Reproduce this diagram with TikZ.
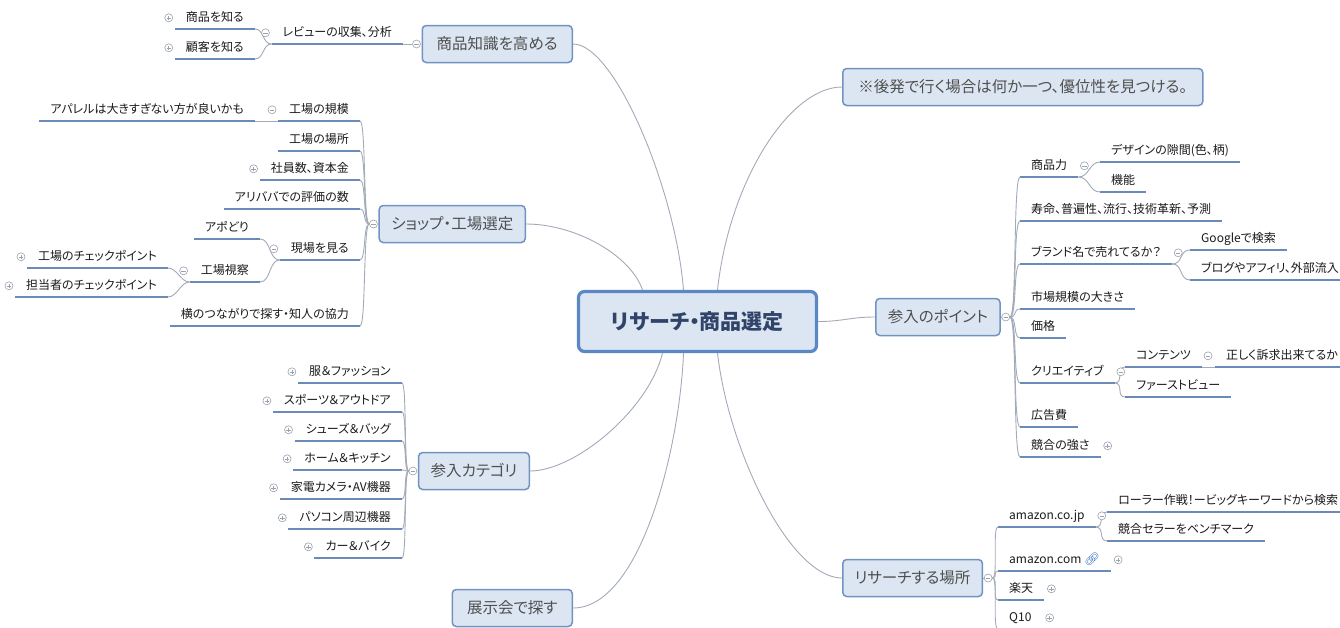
\documentclass[tikz,border=0pt]{standalone}
\usepackage{fontspec}
\setmainfont{Noto Sans CJK JP}[RawFeature=+palt]
\newfontfamily\emojifont{Noto Emoji}

\definecolor{topicfill}{HTML}{DCE6F2}
\definecolor{topicline}{HTML}{7193C2}
\definecolor{rootline}{HTML}{5B87C5}
\definecolor{ulinec}{HTML}{6A8BB8}
\definecolor{connline}{HTML}{A3ABB8}
\definecolor{signline}{HTML}{9AA2AD}
\definecolor{subtext}{HTML}{1A1A1A}
\definecolor{topictext}{HTML}{4F4F4F}
\definecolor{roottext}{HTML}{2F4468}
\definecolor{linkblue}{HTML}{3F78C8}

\newcommand{\subfont}{\fontsize{12pt}{14pt}\selectfont}

\pgfdeclarelayer{bg}
\pgfdeclarelayer{edges}
\pgfsetlayers{bg,edges,main}

\tikzset{
  root/.style={draw=rootline, line width=3.2pt, fill=topicfill, rounded corners=6pt,
    minimum width=238pt, minimum height=60pt, text=roottext,
    font=\fontsize{21pt}{25pt}\selectfont\bfseries},
  topic/.style={draw=topicline, line width=1.5pt, fill=topicfill, rounded corners=4pt,
    minimum height=37pt, inner xsep=12pt, text=topictext,
    font=\fontsize{15.5pt}{18pt}\selectfont},
  underline/.style={draw=ulinec, line width=2.4pt},
  sub/.style={inner xsep=11pt, inner ysep=2pt, text height=9pt, text depth=5pt,
    text=subtext, font=\subfont,
    append after command={(\tikzlastnode.south west) edge[underline] (\tikzlastnode.south east)}},
  lsub/.style={sub, anchor=south east},
  rsub/.style={sub, anchor=south west},
  conn/.style={draw=connline, line width=0.9pt},
  sign/.style={circle, draw=signline, fill=white, line width=0.6pt, minimum size=8pt, inner sep=0pt},
  minus/.style={sign, path picture={
    \draw[signline, line width=0.6pt] ([xshift=-2.2pt]path picture bounding box.center) -- ([xshift=2.2pt]path picture bounding box.center);}},
  plus/.style={sign, path picture={
    \draw[signline, line width=0.6pt] ([xshift=-2.2pt]path picture bounding box.center) -- ([xshift=2.2pt]path picture bounding box.center);
    \draw[signline, line width=0.6pt] ([yshift=-2.2pt]path picture bounding box.center) -- ([yshift=2.2pt]path picture bounding box.center);}},
}

\begin{document}
\begin{tikzpicture}[x=1pt,y=-1pt]
\begin{pgfonlayer}{bg}
  \fill[white] (0,0) rectangle (1340,627);
\end{pgfonlayer}
\useasboundingbox (0,0) rectangle (1340,627);

%central topic
\node[root] (root) at (697.5,321.5) {リサーチ・商品選定};

%main topics
\node[topic, anchor=east, minimum width=150pt] (know) at (573,44) {商品知識を高める};
\node[topic, anchor=east, minimum width=146pt] (shop) at (526,224) {ショップ・工場選定};
\node[topic, anchor=east, minimum width=108pt] (cat) at (530,471) {参入カテゴリ};
\node[topic, anchor=east, minimum width=120pt] (fair) at (573,608) {展示会で探す};
\node[topic, anchor=west, minimum width=360pt] (note) at (842,87) {※後発で行く場合は何か一つ、優位性を見つける。};
\node[topic, anchor=west, minimum width=123pt] (point) at (875,317) {参入のポイント};
\node[topic, anchor=west, minimum width=137pt] (place) at (842,578) {リサーチする場所};

%connectors to the centre
\begin{pgfonlayer}{edges}
\draw[conn] (know.east) .. controls +(42,0) and +(-8,-100) .. ([xshift=-14pt]root.north);
\draw[conn] (shop.east) .. controls +(49,0) and +(-12,-35) .. ([xshift=-55pt]root.north);
\draw[conn] (note.west) .. controls +(-52,0) and +(12,-110) .. ([xshift=20pt]root.north);
\draw[conn] (cat.east) .. controls +(45,0) and +(-14,57) .. ([xshift=-35pt]root.south);
\draw[conn] (fair.east) .. controls +(67,0) and +(-4,97) .. ([xshift=-14pt]root.south);
\draw[conn] (place.west) .. controls +(-52,0) and +(11,97) .. ([xshift=20pt]root.south);
\draw[conn] (root.east) .. controls +(25,0) and +(-25,0) .. (point.west);
\end{pgfonlayer}

%商品知識を高める
\node[minus] (mKnow) at ([xshift=-5pt]know.west) {};
\node[lsub] (rev) at (403,44) {レビューの収集、分析};
\node[minus] (mRev) at ([xshift=-6pt,yshift=2pt]rev.west) {};
\node[lsub] (kProd) at (255,29) {商品を知る};
\node[plus] (pProd) at ([xshift=-6pt,yshift=2pt]kProd.west) {};
\node[lsub] (kCust) at (255,59) {顧客を知る};
\node[plus] (pCust) at ([xshift=-6pt,yshift=2pt]kCust.west) {};
\begin{pgfonlayer}{edges}
\draw[conn] (mKnow) -- (rev.south east);
\foreach \c in {kProd,kCust}
  \draw[conn] (rev.south west) .. controls +(-9,0) and +(9,0) .. (\c.south east);
\end{pgfonlayer}

%ショップ・工場選定
\node[minus] (mShop) at ([xshift=-5pt]shop.west) {};
\node[lsub] (scale) at (360,121) {工場の規模};
\node[minus] (mScale) at ([xshift=-6pt,yshift=2pt]scale.west) {};
\node[lsub] (apparel) at (255,121) {アパレルは大きすぎない方が良いかも};
\node[lsub] (loc) at (360,151) {工場の場所};
\node[lsub] (staff) at (360,180) {社員数、資本金};
\node[plus] (pStaff) at ([xshift=-6pt,yshift=2pt]staff.west) {};
\node[lsub] (ali) at (360,209) {アリババでの評価の数};
\node[lsub] (see) at (360,260) {現場を見る};
\node[minus] (mSee) at ([xshift=-6pt,yshift=2pt]see.west) {};
\node[lsub] (appo) at (260,239) {アポどり};
\node[lsub] (visit) at (260,282) {工場視察};
\node[minus] (mVisit) at ([xshift=-6pt,yshift=2pt]visit.west) {};
\node[lsub] (fcheck) at (168,268) {工場のチェックポイント};
\node[plus] (pFcheck) at ([xshift=-6pt,yshift=2pt]fcheck.west) {};
\node[lsub] (pcheck) at (168,297) {担当者のチェックポイント};
\node[plus] (pPcheck) at ([xshift=-6pt,yshift=2pt]pcheck.west) {};
\node[lsub] (side) at (360,326) {横のつながりで探す・知人の協力};
\begin{pgfonlayer}{edges}
\foreach \c in {scale,loc,staff,ali,see,side}
  \draw[conn] (mShop.west) .. controls +(-6,0) and +(6,0) .. (\c.south east);
\draw[conn] (scale.south west) -- (apparel.south east);
\foreach \c in {appo,visit}
  \draw[conn] (see.south west) .. controls +(-11,0) and +(11,0) .. (\c.south east);
\foreach \c in {fcheck,pcheck}
  \draw[conn] (visit.south west) .. controls +(-9,0) and +(9,0) .. (\c.south east);
\end{pgfonlayer}

%参入カテゴリ
\node[minus] (mCat) at ([xshift=-5pt]cat.west) {};
\foreach \n/\y/\t in {fashion/383/服＆ファッション, sports/412/スポーツ＆アウトドア,
    shoes/441/シューズ＆バッグ, home/470/ホーム＆キッチン, camera/499/家電カメラ・AV機器,
    pc/529/パソコン周辺機器, car/558/カー＆バイク}{
  \node[lsub] (\n) at (402,\y) {\t};
  \node[plus] (p\n) at ([xshift=-6pt,yshift=2pt]\n.west) {};
  \begin{pgfonlayer}{edges}
  \draw[conn] (mCat.west) .. controls +(-5,0) and +(5,0) .. (\n.south east);
  \end{pgfonlayer}
}

%参入のポイント
\node[minus] (mPoint) at ([xshift=5pt]point.east) {};
\node[rsub] (power) at (1020,177) {商品力};
\node[minus] (mPower) at ([xshift=6pt,yshift=2pt]power.east) {};
\node[rsub] (design) at (1100,162) {デザインの隙間(色、柄)};
\node[rsub] (func) at (1100,192) {機能};
\node[rsub] (life) at (1020,221) {寿命、普遍性、流行、技術革新、予測};
\node[rsub] (brand) at (1020,264) {ブランド名で売れてるか？};
\node[minus] (mBrand) at ([xshift=6pt,yshift=2pt]brand.east) {};
\node[rsub] (google) at (1190,250) {Googleで検索};
\node[rsub] (blog) at (1190,280) {ブログやアフィリ、外部流入};
\node[rsub] (market) at (1020,309) {市場規模の大きさ};
\node[rsub] (price) at (1020,338) {価格};
\node[rsub] (creative) at (1020,383) {クリエイティブ};
\node[minus] (mCreative) at ([xshift=6pt,yshift=2pt]creative.east) {};
\node[rsub] (content) at (1125,367) {コンテンツ};
\node[minus] (mContent) at ([xshift=6pt,yshift=2pt]content.east) {};
\node[rsub] (appeal) at (1215,367) {正しく訴求出来てるか};
\node[rsub] (fv) at (1125,397) {ファーストビュー};
\node[rsub] (ad) at (1020,427) {広告費};
\node[rsub] (rival) at (1020,457) {競合の強さ};
\node[plus] (pRival) at ([xshift=7pt,yshift=2pt]rival.east) {};
\begin{pgfonlayer}{edges}
\draw[conn] (point.east) -- (mPoint);
\foreach \c in {power,life,brand,market,price,creative,ad,rival}
  \draw[conn] (mPoint.east) .. controls +(7,0) and +(-7,0) .. (\c.south west);
\foreach \c in {design,func}
  \draw[conn] (power.south east) .. controls +(11,0) and +(-11,0) .. (\c.south west);
\foreach \c in {google,blog}
  \draw[conn] (brand.south east) .. controls +(11,0) and +(-11,0) .. (\c.south west);
\foreach \c in {content,fv}
  \draw[conn] (creative.south east) .. controls +(9,0) and +(-9,0) .. (\c.south west);
\draw[conn] (content.south east) -- (appeal.south west);
\end{pgfonlayer}

%リサーチする場所
\node[minus] (mPlace) at ([xshift=5pt]place.east) {};
\node[rsub] (jp) at (998,527) {amazon.co.jp};
\node[minus] (mJp) at ([xshift=6pt,yshift=2pt]jp.east) {};
\node[rsub] (roller) at (1107,512) {ローラー作戦！ービッグキーワードから検索};
\node[rsub] (bench) at (1107,541) {競合セラーをベンチマーク};
\node[rsub] (com) at (998,571) {amazon.com {\emojifont\fontsize{12.5pt}{12pt}\selectfont\textcolor{linkblue}{🔗}}};
\node[plus] (pCom) at ([xshift=7pt,yshift=2pt]com.east) {};
\node[rsub] (rakuten) at (998,600) {楽天};
\node[plus] (pRakuten) at ([xshift=7pt,yshift=2pt]rakuten.east) {};
\node[rsub] (q10) at (998,629) {Q10};
\node[plus] (pQ10) at ([xshift=7pt,yshift=2pt]q10.east) {};
\begin{pgfonlayer}{edges}
\draw[conn] (place.east) -- (mPlace);
\foreach \c in {jp,com,rakuten,q10}
  \draw[conn] (mPlace.east) .. controls +(6,0) and +(-6,0) .. (\c.south west);
\foreach \c in {roller,bench}
  \draw[conn] (jp.south east) .. controls +(9,0) and +(-9,0) .. (\c.south west);
\end{pgfonlayer}
\end{tikzpicture}
\end{document}
